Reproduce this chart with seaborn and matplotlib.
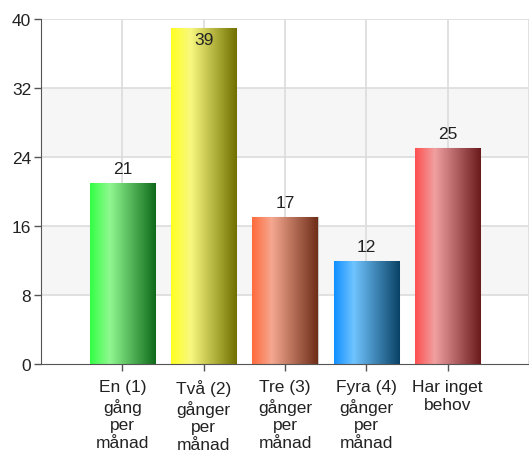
import numpy as np
import pandas as pd
import matplotlib
matplotlib.use("Agg")
import matplotlib.pyplot as plt
from matplotlib.colors import LinearSegmentedColormap
import seaborn as sns

categories = ["En (1)\ngång\nper\nmånad", "Två (2)\ngånger\nper\nmånad",
              "Tre (3)\ngånger\nper\nmånad", "Fyra (4)\ngånger\nper\nmånad",
              "Har inget\nbehov"]
values = [21, 39, 17, 12, 25]
y_ticks = [0, 8, 16, 24, 32, 40]
grad_left = ["#33ff44", "#ffff22", "#ff6a3c", "#1090ff", "#ff5050"]
grad_mid = ["#90f890", "#f8f880", "#f5a890", "#70c4ff", "#f0a0a0"]
grad_right = ["#0f6a1a", "#707000", "#6e2d18", "#0a4266", "#6a1a1a"]

sns.set_style("white")
plt.rcParams['font.family'] = ['Liberation Sans', 'DejaVu Sans']

W, H = 529, 452
fig = plt.figure(figsize=(W / 100, H / 100), dpi=100)
ax = fig.add_axes([41 / W, 1 - 365 / H, (529 - 41) / W, (365 - 20) / H])

df = pd.DataFrame({"cat": categories, "val": values})
sns.barplot(data=df, x="cat", y="val", hue="cat", palette=grad_left,
            legend=False, width=0.8, ax=ax, zorder=3)
bars = [p for c in ax.containers for p in c]

ax.set_xlim(-1, 5)
ax.set_ylim(0, 40)

# alternating bands
for lo, hi in [(8, 16), (24, 32)]:
    ax.axhspan(lo, hi, color="#f6f6f6", zorder=0, lw=0)
for yv in y_ticks[1:]:
    ax.axhline(yv, color="#dcdcdc", lw=1.2, zorder=1)
for xv in range(0, 6):
    ax.axvline(xv, color="#dcdcdc", lw=1.2, zorder=1)

# gradients on bars
grad = np.linspace(0, 1, 256).reshape(1, -1)
for i, p in enumerate(bars):
    cmap = LinearSegmentedColormap.from_list(
        f"g{i}", [(0, grad_left[i]), (0.3, grad_mid[i]), (1, grad_right[i])])
    x0, y0 = p.get_x(), p.get_y()
    w, h = p.get_width(), p.get_height()
    im = ax.imshow(grad, cmap=cmap, aspect="auto",
                   extent=[x0, x0 + w, y0, y0 + h], zorder=4)
    im.set_clip_path(p)
    p.set_edgecolor("#c8c8c8")
    p.set_linewidth(0.8)
ax.set_xlim(-1, 5)
ax.set_ylim(0, 40)

FS = 12.5
# value labels
for i, v in enumerate(values):
    if v + 3 > 40:
        ax.annotate(str(v), (i, v), xytext=(0, -3), textcoords="offset points",
                    ha="center", va="top", fontsize=FS, color="#222222", zorder=6)
    else:
        ax.annotate(str(v), (i, v), xytext=(0, 5), textcoords="offset points",
                    ha="center", va="bottom", fontsize=FS, color="#222222", zorder=6)

ax.set_yticks(y_ticks)
ax.set_yticklabels([str(t) for t in y_ticks], fontsize=FS, color="#222222")
ax.set_xticks(range(len(categories)))
ax.set_xticklabels(categories, fontsize=FS, color="#222222", linespacing=1.24)
ax.set_xlabel("")
ax.set_ylabel("")

for s in ["top", "right"]:
    ax.spines[s].set_visible(False)
ax.spines["left"].set_color("#555555")
ax.spines["bottom"].set_color("#555555")
ax.spines["left"].set_zorder(5)
ax.spines["bottom"].set_zorder(5)
ax.tick_params(axis="both", direction="out", length=5, width=1, color="#555555",
               bottom=True, left=True)
ax.tick_params(axis="x", pad=6)
ax.tick_params(axis="y", pad=2)

fig.savefig("out.png", dpi=100, facecolor="white")
